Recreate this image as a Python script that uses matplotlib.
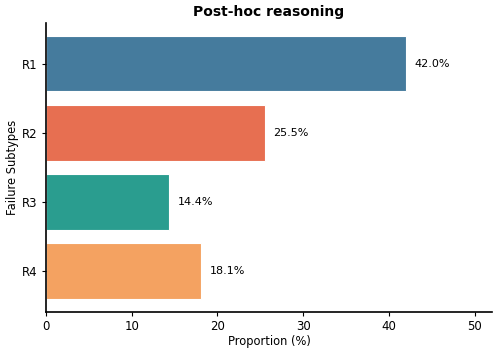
import matplotlib
matplotlib.use("Agg")
import matplotlib.pyplot as plt

# data
categories = ["R1", "R2", "R3", "R4"]
values = [42.0, 25.5, 14.4, 18.1]
colors = ["#457b9d", "#e76f51", "#2a9d8f", "#f4a261"]
xticks = [0, 10, 20, 30, 40, 50]

plt.rcParams['font.family'] = ['DejaVu Sans']

fig, ax = plt.subplots(figsize=(4.99, 3.54), dpi=100)
fig.subplots_adjust(left=0.092, right=0.986, bottom=0.119, top=0.935)

ypos = list(range(len(categories)))
ax.barh(ypos, values, height=0.8, color=colors, edgecolor="white", linewidth=0.8)
ax.set_yticks(ypos)
ax.set_yticklabels(categories)
ax.invert_yaxis()

for y, v in zip(ypos, values):
    ax.text(v + 1, y, "{:.1f}%".format(v), va="center", ha="left", fontsize=8)

ax.set_xlim(0, 52)
ax.set_xticks(xticks)
ax.set_xlabel("Proportion (%)", fontsize=8.3, labelpad=1)
ax.set_ylabel("Failure Subtypes", fontsize=8.3, labelpad=2)
ax.set_title("Post-hoc reasoning", fontsize=10, fontweight="bold", pad=5)
ax.tick_params(labelsize=8.5, length=3, pad=3)

for s in ["top", "right"]:
    ax.spines[s].set_visible(False)
for s in ["left", "bottom"]:
    ax.spines[s].set_linewidth(1.2)

fig.savefig("out.png", dpi=100)
